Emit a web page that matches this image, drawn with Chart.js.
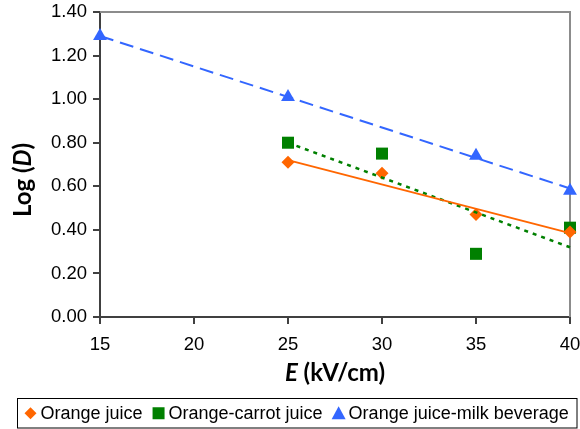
<!DOCTYPE html>
<html>
<head>
<meta charset="utf-8">
<script src="https://cdn.jsdelivr.net/npm/chart.js@4.4.0/dist/chart.umd.min.js"></script>
<style>
  html, body { margin: 0; padding: 0; background: #fff; }
  #wrap { width: 580px; height: 429px; position: relative; }
</style>
</head>
<body>
<div id="wrap"><canvas id="logChart"></canvas></div>
<script>
// measured points: electric field E (kV/cm) vs Log(D)
const ojE = [25, 30, 35, 40];
const ojLogD = [0.71, 0.66, 0.47, 0.39];
const ocE = [25, 30, 35, 40];
const ocLogD = [0.80, 0.75, 0.29, 0.41];
const omE = [15, 25, 35, 40];
const omLogD = [1.29, 1.01, 0.74, 0.58];

// linear trendline end points
const ojFitE = [25, 40];
const ojFitLogD = [0.72, 0.385];
const ocFitE = [25, 40];
const ocFitLogD = [0.80, 0.32];
const omFitE = [15, 40];
const omFitLogD = [1.29, 0.59];

const xTicks = [15, 20, 25, 30, 35, 40];
const yTicks = [0, 0.2, 0.4, 0.6, 0.8, 1.0, 1.2, 1.4];

const ORANGE = '#FF6600';
const GREEN = '#008000';
const BLUE = '#3366FF';

const TITLE_FONT = 'bold 24px Lato, "Liberation Sans", sans-serif';

function pts(xs, ys) {
    return xs.map((x, i) => ({ x: x, y: ys[i] }));
}

// **Frame, axis titles and boxed legend**
const decorations = {
    id: 'decorations',
    beforeDatasetsDraw(chart) {
        const { ctx, chartArea: a } = chart;
        ctx.save();
        ctx.strokeStyle = '#8c8c8c';
        ctx.lineWidth = 2;
        ctx.beginPath();
        ctx.moveTo(a.left, a.top);
        ctx.lineTo(a.right, a.top);
        ctx.lineTo(a.right, a.bottom);
        ctx.stroke();
        ctx.restore();
    },
    afterDraw(chart) {
        const { ctx, chartArea: a } = chart;
        ctx.save();
        ctx.fillStyle = '#000';
        ctx.textBaseline = 'middle';

        // mixed-style titles: [text, italic]
        const drawParts = (parts, cx, cy) => {
            let w = 0;
            parts.forEach(p => {
                ctx.font = (p[1] ? 'italic ' : '') + TITLE_FONT;
                w += ctx.measureText(p[0]).width;
            });
            let x = cx - w / 2;
            ctx.textAlign = 'left';
            parts.forEach(p => {
                ctx.font = (p[1] ? 'italic ' : '') + TITLE_FONT;
                ctx.fillText(p[0], x, cy);
                x += ctx.measureText(p[0]).width;
            });
        };
        drawParts([['E', true], [' (kV/cm)', false]], (a.left + a.right) / 2, 373);

        ctx.save();
        ctx.translate(23, 180);
        ctx.rotate(-Math.PI / 2);
        drawParts([['Log (', false], ['D', true], [')', false]], 0, 0);
        ctx.restore();

        // legend box
        const boxL = 17.5, boxT = 398.5, boxR = 577, boxB = 428;
        ctx.strokeStyle = '#000';
        ctx.lineWidth = 1;
        ctx.strokeRect(boxL, boxT, boxR - boxL, boxB - boxT);
        ctx.font = '18px "Liberation Sans", Arial, sans-serif';
        const cy = (boxT + boxB) / 2;
        let x = boxL + 7;
        chart.data.datasets.filter(d => d.label).forEach(d => {
            const mx = x + 6;
            ctx.fillStyle = d.backgroundColor;
            ctx.beginPath();
            if (d.pointStyle === 'rectRot') {
                ctx.moveTo(mx, cy - 6); ctx.lineTo(mx + 6, cy);
                ctx.lineTo(mx, cy + 6); ctx.lineTo(mx - 6, cy);
            } else if (d.pointStyle === 'rect') {
                ctx.rect(mx - 6, cy - 6, 12, 12);
            } else {
                ctx.moveTo(mx, cy - 7); ctx.lineTo(mx + 7, cy + 6);
                ctx.lineTo(mx - 7, cy + 6);
            }
            ctx.closePath();
            ctx.fill();
            ctx.fillStyle = '#000';
            ctx.fillText(d.label, x + 16, cy + 1);
            x += 16 + ctx.measureText(d.label).width + 10;
        });
        ctx.restore();
    }
};

const markerBase = { showLine: false, clip: false, borderWidth: 0, order: 1 };
const fitBase = { showLine: true, pointRadius: 0, borderWidth: 2, fill: false, clip: false, order: 0 };

new Chart(document.getElementById('logChart'), {
    type: 'scatter',
    data: {
        datasets: [
            Object.assign({}, markerBase, {
                label: 'Orange juice', data: pts(ojE, ojLogD),
                pointStyle: 'rectRot', pointRadius: 6.5, backgroundColor: ORANGE, borderColor: ORANGE
            }),
            Object.assign({}, markerBase, {
                label: 'Orange-carrot juice', data: pts(ocE, ocLogD),
                pointStyle: 'rect', pointRadius: 8.5, backgroundColor: GREEN, borderColor: GREEN
            }),
            Object.assign({}, markerBase, {
                label: 'Orange juice-milk beverage', data: pts(omE, omLogD),
                pointStyle: 'triangle', pointRadius: 8, backgroundColor: BLUE, borderColor: BLUE
            }),
            Object.assign({}, fitBase, { data: pts(ojFitE, ojFitLogD), borderColor: ORANGE }),
            Object.assign({}, fitBase, { data: pts(ocFitE, ocFitLogD), borderColor: GREEN, borderDash: [4, 5], borderWidth: 2.5 }),
            Object.assign({}, fitBase, { data: pts(omFitE, omFitLogD), borderColor: BLUE, borderDash: [14, 7] })
        ]
    },
    options: {
        responsive: true,
        maintainAspectRatio: false,
        animation: false,
        events: [],
        layout: { padding: { top: 12, right: 10, left: 0, bottom: 0 } },
        plugins: { legend: { display: false }, tooltip: { enabled: false } },
        scales: {
            x: {
                type: 'linear', min: 15, max: 40,
                afterFit: s => { s.height = 112; s.paddingLeft = 0; s.paddingRight = 0; },
                afterBuildTicks: s => { s.ticks = xTicks.map(v => ({ value: v })); },
                border: { color: '#404040', width: 2 },
                grid: { drawOnChartArea: false, color: '#404040', lineWidth: 2, tickLength: 7 },
                ticks: { color: '#000', padding: 10, maxRotation: 0, font: { family: '"Liberation Sans", Arial', size: 18.5 } }
            },
            y: {
                type: 'linear', min: 0, max: 1.4,
                afterFit: s => { s.width = 100; s.paddingTop = 0; s.paddingBottom = 0; },
                afterBuildTicks: s => { s.ticks = yTicks.map(v => ({ value: v })); },
                border: { color: '#404040', width: 2 },
                grid: { drawOnChartArea: false, color: '#404040', lineWidth: 2, tickLength: 7 },
                ticks: {
                    color: '#000', padding: 6,
                    font: { family: '"Liberation Sans", Arial', size: 18.5 },
                    callback: v => Number(v).toFixed(2)
                }
            }
        }
    },
    plugins: [decorations]
});
</script>
</body>
</html>
